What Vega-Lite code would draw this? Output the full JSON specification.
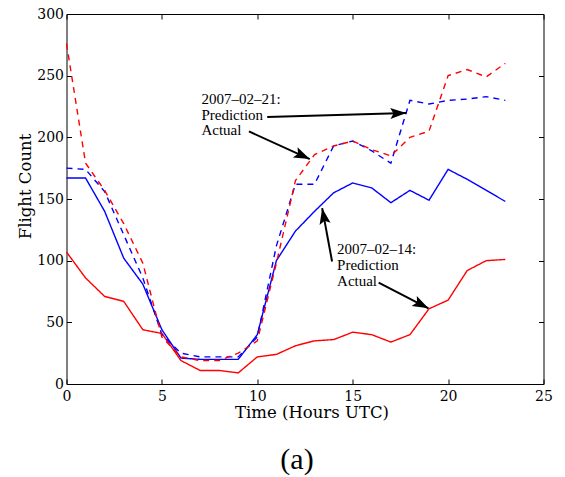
{
  "$schema": "https://vega.github.io/schema/vega-lite/v6.json",
  "width": 477,
  "height": 370,
  "autosize": {"type": "none"},
  "padding": {"left": 66.5, "top": 14, "right": 21.5, "bottom": 93},
  "background": "white",
  "title": {"text": "(a)", "orient": "bottom", "anchor": "middle", "font": "Liberation Serif", "fontSize": 30, "fontWeight": "normal", "color": "black", "dx": -8, "offset": 24},
  "config": {
    "view": {"stroke": "black", "strokeWidth": 1},
    "axis": {
      "labelFont": "DejaVu Serif", "labelFontSize": 14, "labelColor": "black", "labelFlush": false, "labelOverlap": false,
      "titleFont": "DejaVu Serif", "titleFontSize": 16.5, "titleFontWeight": "normal", "titleColor": "black",
      "tickColor": "black", "tickSize": -5, "tickWidth": 1, "domain": false, "grid": false
    }
  },
  "datasets": {
    "series": [
      {"series": "2007-02-14 Prediction", "hour": 0, "count": 167},
      {"series": "2007-02-14 Prediction", "hour": 1, "count": 167},
      {"series": "2007-02-14 Prediction", "hour": 2, "count": 140},
      {"series": "2007-02-14 Prediction", "hour": 3, "count": 102},
      {"series": "2007-02-14 Prediction", "hour": 4, "count": 81},
      {"series": "2007-02-14 Prediction", "hour": 5, "count": 44},
      {"series": "2007-02-14 Prediction", "hour": 6, "count": 21},
      {"series": "2007-02-14 Prediction", "hour": 7, "count": 20},
      {"series": "2007-02-14 Prediction", "hour": 8, "count": 20},
      {"series": "2007-02-14 Prediction", "hour": 9, "count": 20},
      {"series": "2007-02-14 Prediction", "hour": 10, "count": 40},
      {"series": "2007-02-14 Prediction", "hour": 11, "count": 100},
      {"series": "2007-02-14 Prediction", "hour": 12, "count": 124},
      {"series": "2007-02-14 Prediction", "hour": 13, "count": 140},
      {"series": "2007-02-14 Prediction", "hour": 14, "count": 155},
      {"series": "2007-02-14 Prediction", "hour": 15, "count": 163},
      {"series": "2007-02-14 Prediction", "hour": 16, "count": 159},
      {"series": "2007-02-14 Prediction", "hour": 17, "count": 147},
      {"series": "2007-02-14 Prediction", "hour": 18, "count": 157},
      {"series": "2007-02-14 Prediction", "hour": 19, "count": 149},
      {"series": "2007-02-14 Prediction", "hour": 20, "count": 174},
      {"series": "2007-02-14 Prediction", "hour": 21, "count": 166},
      {"series": "2007-02-14 Prediction", "hour": 22, "count": 157},
      {"series": "2007-02-14 Prediction", "hour": 23, "count": 148},
      {"series": "2007-02-14 Actual", "hour": 0, "count": 107},
      {"series": "2007-02-14 Actual", "hour": 1, "count": 86},
      {"series": "2007-02-14 Actual", "hour": 2, "count": 71},
      {"series": "2007-02-14 Actual", "hour": 3, "count": 67},
      {"series": "2007-02-14 Actual", "hour": 4, "count": 44},
      {"series": "2007-02-14 Actual", "hour": 5, "count": 41},
      {"series": "2007-02-14 Actual", "hour": 6, "count": 19},
      {"series": "2007-02-14 Actual", "hour": 7, "count": 11},
      {"series": "2007-02-14 Actual", "hour": 8, "count": 11},
      {"series": "2007-02-14 Actual", "hour": 9, "count": 9},
      {"series": "2007-02-14 Actual", "hour": 10, "count": 22},
      {"series": "2007-02-14 Actual", "hour": 11, "count": 24},
      {"series": "2007-02-14 Actual", "hour": 12, "count": 31},
      {"series": "2007-02-14 Actual", "hour": 13, "count": 35},
      {"series": "2007-02-14 Actual", "hour": 14, "count": 36},
      {"series": "2007-02-14 Actual", "hour": 15, "count": 42},
      {"series": "2007-02-14 Actual", "hour": 16, "count": 40},
      {"series": "2007-02-14 Actual", "hour": 17, "count": 34},
      {"series": "2007-02-14 Actual", "hour": 18, "count": 40},
      {"series": "2007-02-14 Actual", "hour": 19, "count": 61},
      {"series": "2007-02-14 Actual", "hour": 20, "count": 68},
      {"series": "2007-02-14 Actual", "hour": 21, "count": 92},
      {"series": "2007-02-14 Actual", "hour": 22, "count": 100},
      {"series": "2007-02-14 Actual", "hour": 23, "count": 101},
      {"series": "2007-02-21 Prediction", "hour": 0, "count": 175},
      {"series": "2007-02-21 Prediction", "hour": 1, "count": 174},
      {"series": "2007-02-21 Prediction", "hour": 2, "count": 156},
      {"series": "2007-02-21 Prediction", "hour": 3, "count": 121},
      {"series": "2007-02-21 Prediction", "hour": 4, "count": 86},
      {"series": "2007-02-21 Prediction", "hour": 5, "count": 40},
      {"series": "2007-02-21 Prediction", "hour": 6, "count": 25},
      {"series": "2007-02-21 Prediction", "hour": 7, "count": 22},
      {"series": "2007-02-21 Prediction", "hour": 8, "count": 22},
      {"series": "2007-02-21 Prediction", "hour": 9, "count": 22},
      {"series": "2007-02-21 Prediction", "hour": 10, "count": 38},
      {"series": "2007-02-21 Prediction", "hour": 11, "count": 112},
      {"series": "2007-02-21 Prediction", "hour": 12, "count": 162},
      {"series": "2007-02-21 Prediction", "hour": 13, "count": 162},
      {"series": "2007-02-21 Prediction", "hour": 14, "count": 193},
      {"series": "2007-02-21 Prediction", "hour": 15, "count": 197},
      {"series": "2007-02-21 Prediction", "hour": 16, "count": 189},
      {"series": "2007-02-21 Prediction", "hour": 17, "count": 179},
      {"series": "2007-02-21 Prediction", "hour": 18, "count": 230},
      {"series": "2007-02-21 Prediction", "hour": 19, "count": 227},
      {"series": "2007-02-21 Prediction", "hour": 20, "count": 230},
      {"series": "2007-02-21 Prediction", "hour": 21, "count": 231},
      {"series": "2007-02-21 Prediction", "hour": 22, "count": 233},
      {"series": "2007-02-21 Prediction", "hour": 23, "count": 230},
      {"series": "2007-02-21 Actual", "hour": 0, "count": 276},
      {"series": "2007-02-21 Actual", "hour": 1, "count": 179},
      {"series": "2007-02-21 Actual", "hour": 2, "count": 157},
      {"series": "2007-02-21 Actual", "hour": 3, "count": 130},
      {"series": "2007-02-21 Actual", "hour": 4, "count": 98},
      {"series": "2007-02-21 Actual", "hour": 5, "count": 38},
      {"series": "2007-02-21 Actual", "hour": 6, "count": 22},
      {"series": "2007-02-21 Actual", "hour": 7, "count": 19},
      {"series": "2007-02-21 Actual", "hour": 8, "count": 19},
      {"series": "2007-02-21 Actual", "hour": 9, "count": 25},
      {"series": "2007-02-21 Actual", "hour": 10, "count": 35},
      {"series": "2007-02-21 Actual", "hour": 11, "count": 98},
      {"series": "2007-02-21 Actual", "hour": 12, "count": 165},
      {"series": "2007-02-21 Actual", "hour": 13, "count": 186},
      {"series": "2007-02-21 Actual", "hour": 14, "count": 193},
      {"series": "2007-02-21 Actual", "hour": 15, "count": 197},
      {"series": "2007-02-21 Actual", "hour": 16, "count": 190},
      {"series": "2007-02-21 Actual", "hour": 17, "count": 185},
      {"series": "2007-02-21 Actual", "hour": 18, "count": 200},
      {"series": "2007-02-21 Actual", "hour": 19, "count": 205},
      {"series": "2007-02-21 Actual", "hour": 20, "count": 250},
      {"series": "2007-02-21 Actual", "hour": 21, "count": 255},
      {"series": "2007-02-21 Actual", "hour": 22, "count": 249},
      {"series": "2007-02-21 Actual", "hour": 23, "count": 260}
    ],
    "arrows": [
      {"target": "2007-02-21 Prediction", "x0": 10.52, "y0": 216.5, "x1": 17.81, "y1": 219.7},
      {"target": "2007-02-21 Actual", "x0": 9.56, "y0": 204.8, "x1": 12.75, "y1": 182.4},
      {"target": "2007-02-14 Prediction", "x0": 13.92, "y0": 99.3, "x1": 13.4, "y1": 142.6},
      {"target": "2007-02-14 Actual", "x0": 16.36, "y0": 82.2, "x1": 18.97, "y1": 61.4}
    ],
    "notes": [
      {"text": "2007–02–21:", "x": 7.07, "y": 227.0},
      {"text": "Prediction", "x": 7.07, "y": 214.3},
      {"text": "Actual", "x": 7.07, "y": 201.5},
      {"text": "2007–02–14:", "x": 14.18, "y": 105.3},
      {"text": "Prediction", "x": 14.18, "y": 92.5},
      {"text": "Actual", "x": 14.18, "y": 79.8}
    ]
  },
  "layer": [
    {
      "data": {"name": "series"},
      "mark": {"type": "line", "strokeWidth": 1.4},
      "encoding": {
        "x": {"field": "hour", "type": "quantitative", "scale": {"domain": [0, 25], "nice": false, "zero": false},
          "axis": {"orient": "bottom", "values": [0, 5, 10, 15, 20, 25], "title": "Time (Hours UTC)", "labelPadding": 10.6, "titleX": 245, "titleY": 33.3, "titleBaseline": "alphabetic", "titleAlign": "center", "titleAnchor": null}},
        "y": {"field": "count", "type": "quantitative", "scale": {"domain": [0, 300], "nice": false},
          "axis": {"orient": "left", "values": [0, 50, 100, 150, 200, 250, 300], "title": "Flight Count", "labelPadding": 8, "titleX": -41.5, "titleY": 172, "titleAngle": -90, "titleBaseline": "middle", "titleAlign": "center", "titleAnchor": null}},
        "color": {"field": "series", "type": "nominal", "legend": null,
          "scale": {"domain": ["2007-02-14 Prediction", "2007-02-14 Actual", "2007-02-21 Prediction", "2007-02-21 Actual"], "range": ["#0000ff", "#ff0000", "#0000ff", "#ff0000"]}},
        "strokeDash": {"field": "series", "type": "nominal", "legend": null,
          "scale": {"domain": ["2007-02-14 Prediction", "2007-02-14 Actual", "2007-02-21 Prediction", "2007-02-21 Actual"], "range": [[1, 0], [1, 0], [6, 5], [6, 5]]}}
      }
    },
    {
      "data": {"name": "arrows"},
      "mark": {"type": "rule", "color": "black", "strokeWidth": 2},
      "encoding": {
        "x": {"field": "x0", "type": "quantitative", "axis": {"orient": "top", "values": [0, 5, 10, 15, 20, 25], "labels": false, "title": null}},
        "y": {"field": "y0", "type": "quantitative", "axis": {"orient": "right", "values": [0, 50, 100, 150, 200, 250, 300], "labels": false, "title": null}},
        "x2": {"field": "x1"},
        "y2": {"field": "y1"}
      }
    },
    {
      "data": {"name": "arrows"},
      "transform": [
        {"calculate": "atan2(-(datum.y1 - datum.y0) * 370 / 300, (datum.x1 - datum.x0) * 477 / 25) * 180 / PI", "as": "angle"}
      ],
      "mark": {"type": "point", "filled": true, "color": "black", "opacity": 1, "strokeWidth": 0, "size": 256, "shape": "M0,0 L-2,-0.7 L-1.6,0 L-2,0.7 Z"},
      "encoding": {
        "x": {"field": "x1", "type": "quantitative", "axis": null},
        "y": {"field": "y1", "type": "quantitative", "axis": null},
        "angle": {"field": "angle", "type": "quantitative", "scale": null}
      }
    },
    {
      "data": {"name": "notes"},
      "mark": {"type": "text", "align": "left", "baseline": "alphabetic", "font": "Liberation Serif", "fontSize": 15, "color": "black"},
      "encoding": {
        "x": {"field": "x", "type": "quantitative", "axis": null},
        "y": {"field": "y", "type": "quantitative", "axis": null},
        "text": {"field": "text", "type": "nominal"}
      }
    }
  ],
  "resolve": {"axis": {"x": "independent", "y": "independent"}}
}
